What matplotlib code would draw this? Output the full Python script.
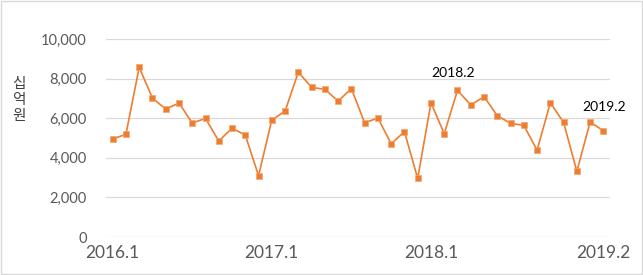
import matplotlib.pyplot as plt
from matplotlib.patches import Rectangle

# monthly values, 2016.1 .. 2019.2 (십억 원)
months = [f"{y}.{m}" for y in (2016, 2017, 2018) for m in range(1, 13)] + ["2019.1", "2019.2"]
values = [4950, 5190, 8570, 7020, 6460, 6770, 5760, 5990, 4850, 5500, 5150, 3100,
          5910, 6360, 8330, 7560, 7460, 6870, 7490, 5770, 6010, 4710, 5320, 2960,
          6780, 5220, 7410, 6670, 7090, 6130, 5740, 5640, 4390, 6780, 5790, 3320,
          5810, 5370]
tick_idx = [0, 12, 24, 37]
tick_labels = ["2016.1", "2017.1", "2018.1", "2019.2"]
notes = [("2018.2", 25.7, 8280), ("2019.2", 37.05, 6580)]

fig = plt.figure(figsize=(6.43, 2.75), dpi=100)
ax = fig.add_axes([0.1649, 0.138, 0.7838, 0.720])

x = list(range(len(values)))
ax.plot(x, values, color='#ED7D31', lw=1.2, marker='s', ms=4,
        markeredgecolor='#F4A56E', markeredgewidth=0.5)

ax.set_xlim(-0.5, len(values) - 0.5)
ax.set_ylim(0, 10000)
ax.set_yticks(range(0, 10001, 2000))
ax.set_yticklabels([f"{v:,}" for v in range(0, 10001, 2000)], fontsize=10.5,
                   color='#595959', family='Lato')
ax.set_xticks(tick_idx)
ax.set_xticklabels(tick_labels, fontsize=12.5, color='#595959', family='Lato')
ax.tick_params(axis='both', length=0)
ax.tick_params(axis='y', pad=14)
ax.tick_params(axis='x', pad=6)
ax.grid(axis='y', color='#D9D9D9', lw=0.9)
ax.set_axisbelow(True)
for s in ax.spines.values():
    s.set_visible(False)

for txt, xi, yi in notes:
    ax.text(xi, yi, txt, ha='center', va='center', fontsize=10, color='black', family='Lato')

# stacked (upright) axis title, as in Excel
fig.text(0.029, 0.637, "십\n억\n원", ha='center', va='center', linespacing=1.2,
         fontsize=10.5, color='#404040', family=['Noto Sans CJK KR', 'DejaVu Sans'])

fig.patches.append(Rectangle((0.001, 0.003), 0.997, 0.994, transform=fig.transFigure,
                             fill=False, edgecolor='#D9D9D9', lw=1))

fig.savefig('out.png', dpi=100)
